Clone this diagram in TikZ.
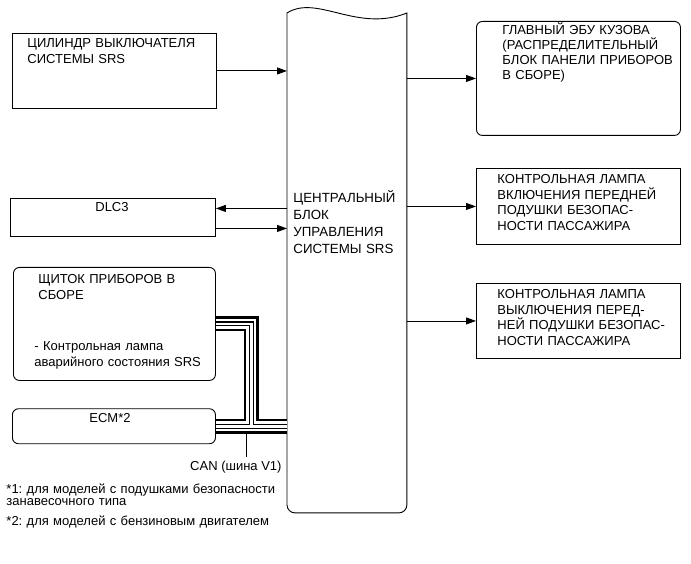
\documentclass[tikz,border=0pt]{standalone}
\usepackage{fontspec}
\setmainfont{Liberation Sans}
\usetikzlibrary{arrows.meta}
\frenchspacing

\begin{document}
\begin{tikzpicture}[x=1pt, y=-1pt, >={Triangle[length=10pt,width=7pt]}, line width=0.9pt,
    box/.style={draw, inner sep=0pt, anchor=north west},
    rbox/.style={box, rounded corners=6pt},
    txt/.style={inner sep=0pt, anchor=base west, align=left, text width=200pt,
      font=\fontsize{13}{15.5}\selectfont},
    ctxt/.style={inner sep=0pt, anchor=base, font=\fontsize{13}{15.5}\selectfont}]
    \useasboundingbox (0,0) rectangle (691,564);
    % central SRS unit
    \node[anchor=north west, minimum width=119pt, minimum height=499pt, inner sep=0pt] (srs) at (287,13) {};
    \draw (srs.north west) .. controls +(30,-19) and +(-50,20) .. (srs.north east)
      -- ([yshift=8pt]srs.south east) arc[start angle=0, end angle=-90, radius=8pt]
      -- ([xshift=8pt]srs.south west) arc[start angle=270, end angle=180, radius=8pt] -- cycle;
    \node[txt, text width=115pt, font=\fontsize{13.3}{17}\selectfont] (srstxt) at (293,202.6)
      {ЦЕНТРАЛЬНЫЙ\\БЛОК\\УПРАВЛЕНИЯ\\СИСТЕМЫ SRS};
    % left side
    \node[box, minimum width=204pt, minimum height=75pt] (cyl) at (12,33) {};
    \node[txt, font=\fontsize{13}{16}\selectfont] (cyltxt) at (27,47.6)
      {ЦИЛИНДР ВЫКЛЮЧАТЕЛЯ\\СИСТЕМЫ SRS};
    \node[box, minimum width=205pt, minimum height=38pt] (dlc) at (10,198) {};
    \node[ctxt] (dlctxt) at (112,211.5) {DLC3};
    \node[rbox, minimum width=202pt, minimum height=113pt] (meter) at (13,267) {};
    \node[txt, font=\fontsize{13}{16}\selectfont] (metertxt) at (38,283.3)
      {ЩИТОК ПРИБОРОВ В\\СБОРЕ};
    \node[txt, font=\fontsize{13}{16}\selectfont] (lamptxt) at (34,350)
      {- Контрольная лампа\\аварийного состояния SRS};
    \node[rbox, minimum width=203pt, minimum height=35pt] (ecm) at (12,408.3) {};
    \node[ctxt] (ecmtxt) at (110,422.6) {ECM*2};
    % right side
    \node[rbox, minimum width=204pt, minimum height=114pt] (ebu) at (476,21) {};
    \node[txt, font=\fontsize{13}{15}\selectfont] (ebutxt) at (502,34.3)
      {ГЛАВНЫЙ ЭБУ КУЗОВА\\(РАСПРЕДЕЛИТЕЛЬНЫЙ\\БЛОК ПАНЕЛИ ПРИБОРОВ\\В СБОРЕ)};
    \node[box, minimum width=204pt, minimum height=76pt] (onlamp) at (476,168) {};
    \node[txt] (onlamptxt) at (497,184)
      {КОНТРОЛЬНАЯ ЛАМПА\\ВКЛЮЧЕНИЯ ПЕРЕДНЕЙ\\ПОДУШКИ БЕЗОПАС-\\НОСТИ ПАССАЖИРА};
    \node[box, minimum width=204pt, minimum height=75pt] (offlamp) at (476,283) {};
    \node[txt] (offlamptxt) at (497,298.8)
      {КОНТРОЛЬНАЯ ЛАМПА\\ВЫКЛЮЧЕНИЯ ПЕРЕД-\\НЕЙ ПОДУШКИ БЕЗОПАС-\\НОСТИ ПАССАЖИРА};
    % arrows
    \draw[->] (cyl.east) -- (cyl.east -| srs.west);
    \coordinate (dlcin) at ([yshift=9pt]dlc.east);
    \coordinate (dlcout) at ([yshift=-11pt]dlc.east);
    \draw[->] (dlcin -| srs.west) -- (dlcin);
    \draw[->] (dlcout) -- (dlcout -| srs.west);
    \draw[->] (srs.east |- ebu.west) -- (ebu.west);
    \draw[->] (srs.east |- onlamp.west) -- (onlamp.west);
    \draw[->] (srs.east |- offlamp.west) -- (offlamp.west);
    % CAN bus
    \coordinate (canj) at (251.2,425.8);
    \foreach \w/\c in {15/black,10/white,5/black,2.6/white}
      \draw[line width=\w pt, draw=\c] (meter.east) -| (canj) (ecm.east) -- (ecm.east -| srs.west);
    \node[inner xsep=0pt, inner ysep=3pt, anchor=base east, font=\fontsize{13}{15.5}\selectfont] (canlbl) at (282,470) {CAN (шина V1)};
    \coordinate (cantap) at (246,433.3);
    \draw[line width=0.8pt] (cantap) -- (cantap |- canlbl.north);
    % notes
    \node[txt, text width=290pt, font=\fontsize{13}{12.4}\selectfont] (note1) at (6,493.3)
      {*1: для моделей с подушками безопасности\\занавесочного типа};
    \node[txt, text width=290pt] (note2) at (6,525) {*2: для моделей с бензиновым двигателем};
\end{tikzpicture}
\end{document}
